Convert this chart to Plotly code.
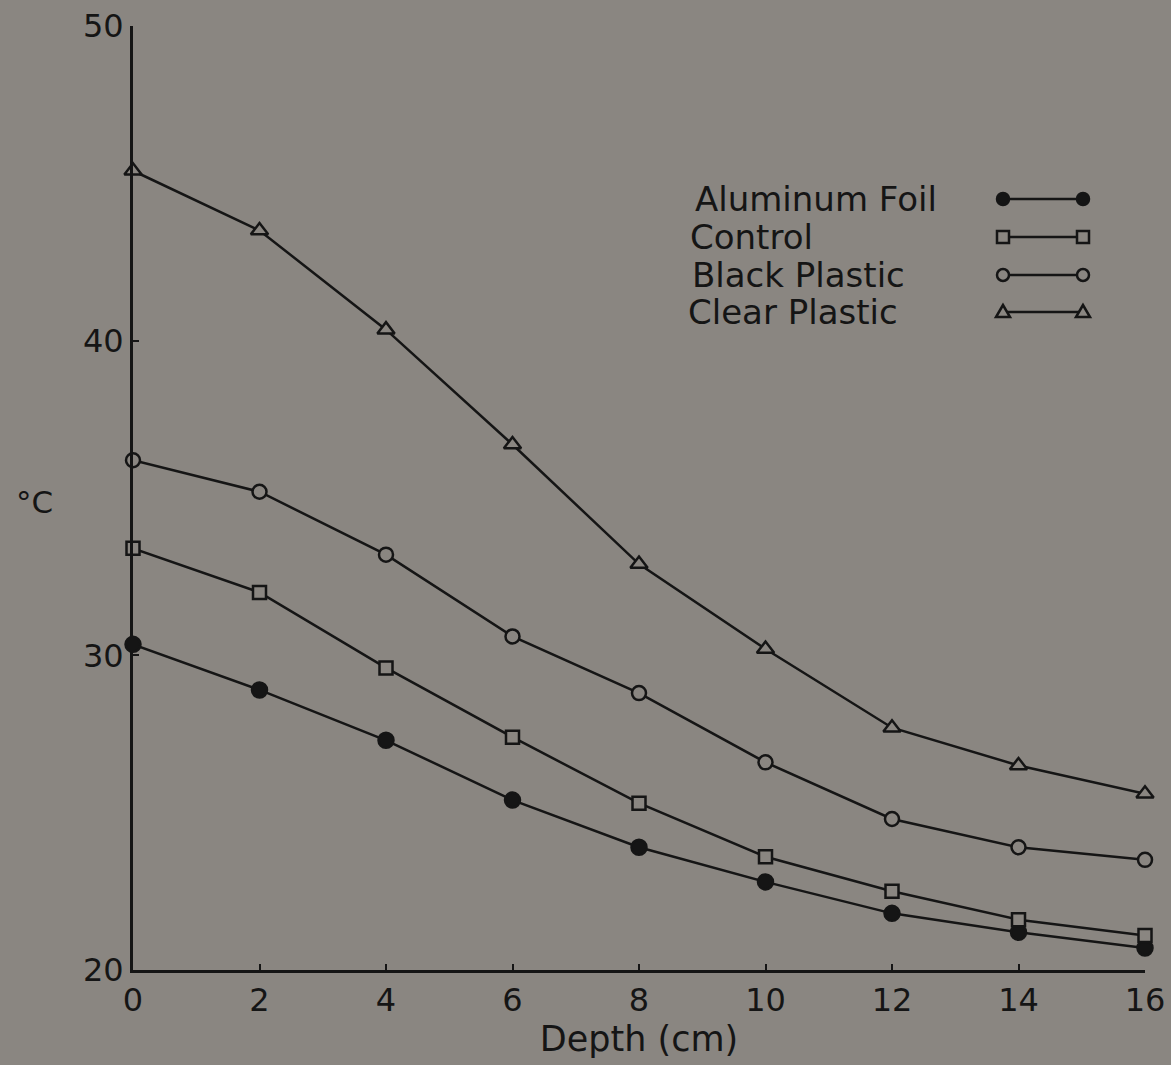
import plotly.graph_objects as go

depth = [0, 2, 4, 6, 8, 10, 12, 14, 16]
aluminum_foil = [30.35, 28.9, 27.3, 25.4, 23.9, 22.8, 21.8, 21.2, 20.7]
control = [33.4, 32.0, 29.6, 27.4, 25.3, 23.6, 22.5, 21.6, 21.1]
black_plastic = [36.2, 35.2, 33.2, 30.6, 28.8, 26.6, 24.8, 23.9, 23.5]
clear_plastic = [45.4, 43.5, 40.35, 36.7, 32.9, 30.2, 27.7, 26.5, 25.6]
series_names = ["Aluminum Foil", "Control", "Black Plastic", "Clear Plastic"]
x_ticks = [0, 2, 4, 6, 8, 10, 12, 14, 16]
y_ticks = [20, 30, 40, 50]

BG = "#8a8681"
INK = "#151515"
FONT = "DejaVu Sans"

W, H = 1171, 1065
ML, MR, MT, MB = 133, 26, 26, 95
PW, PH = W - ML - MR, H - MT - MB

styles = [
    dict(symbol="circle", fill=INK, size=15),
    dict(symbol="square", fill=BG, size=13),
    dict(symbol="circle", fill=BG, size=14),
    dict(symbol="triangle-up", fill=BG, size=15),
]
values = [aluminum_foil, control, black_plastic, clear_plastic]

fig = go.Figure()
for name, vals, st in zip(series_names, values, styles):
    fig.add_trace(go.Scatter(
        x=depth, y=vals, name=name, mode="lines+markers",
        line=dict(color=INK, width=2.5),
        marker=dict(symbol=st["symbol"], size=st["size"], color=st["fill"],
                    line=dict(color=INK, width=2.5)),
        cliponaxis=False, showlegend=False,
    ))


def px2paper(px, py):
    return (px - ML) / PW, (H - MB - py) / PH


# Legend: text on the left, sample on the right (drawn in pixel space -> paper)
leg_rows = [199, 237, 275, 312]
text_x = [693, 688, 690, 686]
s0, s1 = 1003, 1083
for i, (name, st) in enumerate(zip(series_names, styles)):
    py = leg_rows[i]
    tx, ty = px2paper(text_x[i], py)
    fig.add_annotation(x=tx, y=ty, xref="paper", yref="paper", text=name,
                       showarrow=False, xanchor="left", yanchor="middle",
                       font=dict(family=FONT, size=34, color=INK))
    ax0, ay = px2paper(s0, py)
    ax1, _ = px2paper(s1, py)
    fig.add_shape(type="line", xref="paper", yref="paper", x0=ax0, x1=ax1, y0=ay, y1=ay,
                  line=dict(color=INK, width=2.5))
    for cx in (s0, s1):
        r = 6
        if st["symbol"] == "circle":
            a0, b0 = px2paper(cx - r, py + r)
            a1, b1 = px2paper(cx + r, py - r)
            fig.add_shape(type="circle", xref="paper", yref="paper",
                          x0=a0, y0=b0, x1=a1, y1=b1,
                          fillcolor=st["fill"], line=dict(color=INK, width=2.5))
        elif st["symbol"] == "square":
            a0, b0 = px2paper(cx - r, py + r)
            a1, b1 = px2paper(cx + r, py - r)
            fig.add_shape(type="rect", xref="paper", yref="paper",
                          x0=a0, y0=b0, x1=a1, y1=b1,
                          fillcolor=st["fill"], line=dict(color=INK, width=2.5))
        else:
            pts = [px2paper(cx, py - 7), px2paper(cx - 7, py + 5), px2paper(cx + 7, py + 5)]
            path = "M {} {} L {} {} L {} {} Z".format(*[v for p in pts for v in p])
            fig.add_shape(type="path", xref="paper", yref="paper", path=path,
                          fillcolor=st["fill"], line=dict(color=INK, width=2.5))

cx, cy = px2paper(34, 502)
fig.add_annotation(x=cx, y=cy, xref="paper", yref="paper", text="°C",
                   showarrow=False, xanchor="center", yanchor="middle",
                   font=dict(family=FONT, size=31, color=INK))

fig.update_layout(
    width=W, height=H,
    paper_bgcolor=BG, plot_bgcolor=BG,
    margin=dict(l=ML, r=MR, t=MT, b=MB, autoexpand=False),
    font=dict(family=FONT, color=INK, size=30),
    xaxis=dict(range=[0, 16], tickvals=x_ticks, ticks="inside", ticklen=6,
               tickwidth=2, tickcolor=INK, showline=True, linecolor=INK, linewidth=3,
               showgrid=False, zeroline=False, automargin=False,
               title=dict(text="Depth (cm)", font=dict(size=35), standoff=6),
               tickfont=dict(size=32)),
    yaxis=dict(range=[20, 50], tickvals=y_ticks, ticks="inside", ticklen=6,
               tickwidth=2, tickcolor=INK, showline=True, linecolor=INK, linewidth=3,
               showgrid=False, zeroline=False, automargin=False, tickfont=dict(size=32)),
)

fig.write_html("out.html")
